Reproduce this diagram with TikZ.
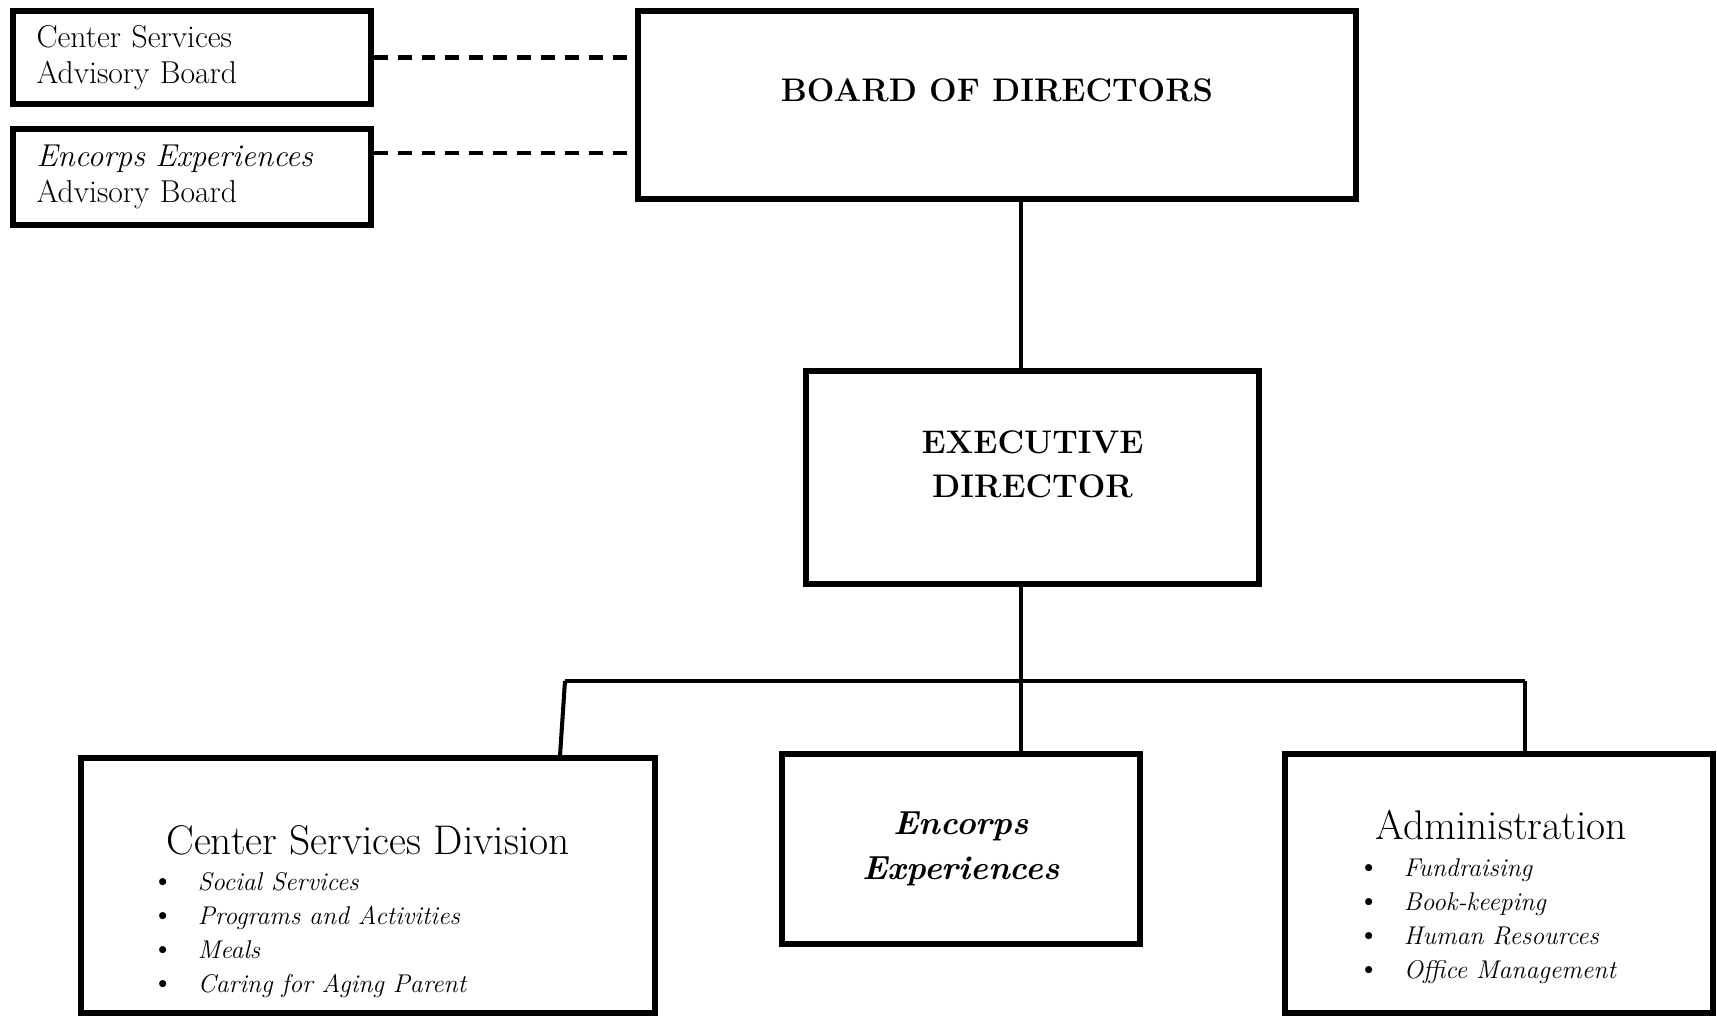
\documentclass[tikz,border=0pt]{standalone}
\usepackage{fontspec}

\newcommand{\orgitem}[1]{\makebox[26.5pt][l]{\fontsize{18}{19.5}\selectfont\textbullet}\textit{#1}}

\tikzset{
orgbox/.style={
  rectangle,
  draw,
  line width=3.2pt,
  inner sep=0pt,
},
advbox/.style={
  orgbox,
  minimum width=7.16cm,
  text width=6.22cm,
  align=left,
  font=\fontsize{18}{20.5}\selectfont,
},
headtext/.style={
  inner sep=0pt,
  align=center,
  font=\fontsize{18.6}{25}\selectfont\bfseries,
},
divtitle/.style={
  inner sep=0pt,
  anchor=base,
  font=\fontsize{23.6}{26}\selectfont,
},
divlist/.style={
  inner sep=0pt,
  anchor=base west,
  font=\fontsize{14.6}{19.5}\selectfont,
},
conn/.style={line width=2.3pt},
forkbar/.style={line width=2.8pt},
dashline/.style={line width=2.3pt, dash pattern=on 7.9pt off 5.7pt},
}

\begin{document}
\begin{tikzpicture}[x=0.02cm, y=-0.02cm]
\useasboundingbox (0,0) rectangle (1717,1017);
                  % advisory boards
\node[advbox, minimum height=1.86cm] (csab) at (192,57.5)
  {Center Services\\Advisory Board};
\node[advbox, minimum height=1.92cm] (eeab) at (192,177)
  {\textit{Encorps Experiences}\\Advisory Board};
                  % board
\node[orgbox, minimum width=14.36cm, minimum height=3.76cm] (bod) at (997,105) {};
\node[headtext] (bodtext) at ([yshift=0.3cm]bod.center) {BOARD OF DIRECTORS};
                  % executive
\node[orgbox, minimum width=9.06cm, minimum height=4.26cm] (exec) at (1032.5,477.5) {};
\node[headtext] (exectext) at ([yshift=0.27cm]exec.center) {EXECUTIVE\\DIRECTOR};
                  % divisions
\node[orgbox, minimum width=11.48cm, minimum height=5.1cm] (csd) at (368,885.5) {};
\node[divtitle] (csdtitle) at (368,854) {Center Services Division};
\node[divlist] (csdlist) at (151,890) {\begin{tabular}[t]{@{}l@{}}
  \orgitem{Social Services}\\
  \orgitem{Programs and Activities}\\
  \orgitem{Meals}\\
  \orgitem{Caring for Aging Parent}
  \end{tabular}};
\node[orgbox, minimum width=7.16cm, minimum height=3.8cm, align=center,
  font=\fontsize{19}{25.5}\selectfont\bfseries\itshape] (enc) at (961,849)
  {Encorps\\Experiences};
\node[orgbox, minimum width=8.56cm, minimum height=5.18cm] (adm) at (1499,883.5) {};
\node[divtitle] (admtitle) at (1501,839) {Administration};
\node[divlist] (admlist) at (1357,876) {\begin{tabular}[t]{@{}l@{}}
  \orgitem{Fundraising}\\
  \orgitem{Book-keeping}\\
  \orgitem{Human Resources}\\
  \orgitem{Office Management}
  \end{tabular}};
                  % connectors
\coordinate (fork) at (1021,681);
\coordinate (forkL) at (565,681);
\coordinate (forkR) at (1525,681);
\coordinate (csdtop) at (560,756);
\draw[dashline] (csab.east) -- (csab.east -| bod.west);
\draw[dashline] ([yshift=0.48cm]eeab.east) -- ([yshift=0.48cm]eeab.east -| bod.west);
\draw[conn] (bod.south -| fork) -- (exec.north -| fork);
\draw[conn] (exec.south -| fork) -- (fork) -- (enc.north -| fork);
\draw[forkbar] (forkL) -- (forkR);
\draw[conn] (forkL) -- (csdtop);
\draw[conn] (forkR) -- (adm.north -| forkR);
\end{tikzpicture}
\end{document}
